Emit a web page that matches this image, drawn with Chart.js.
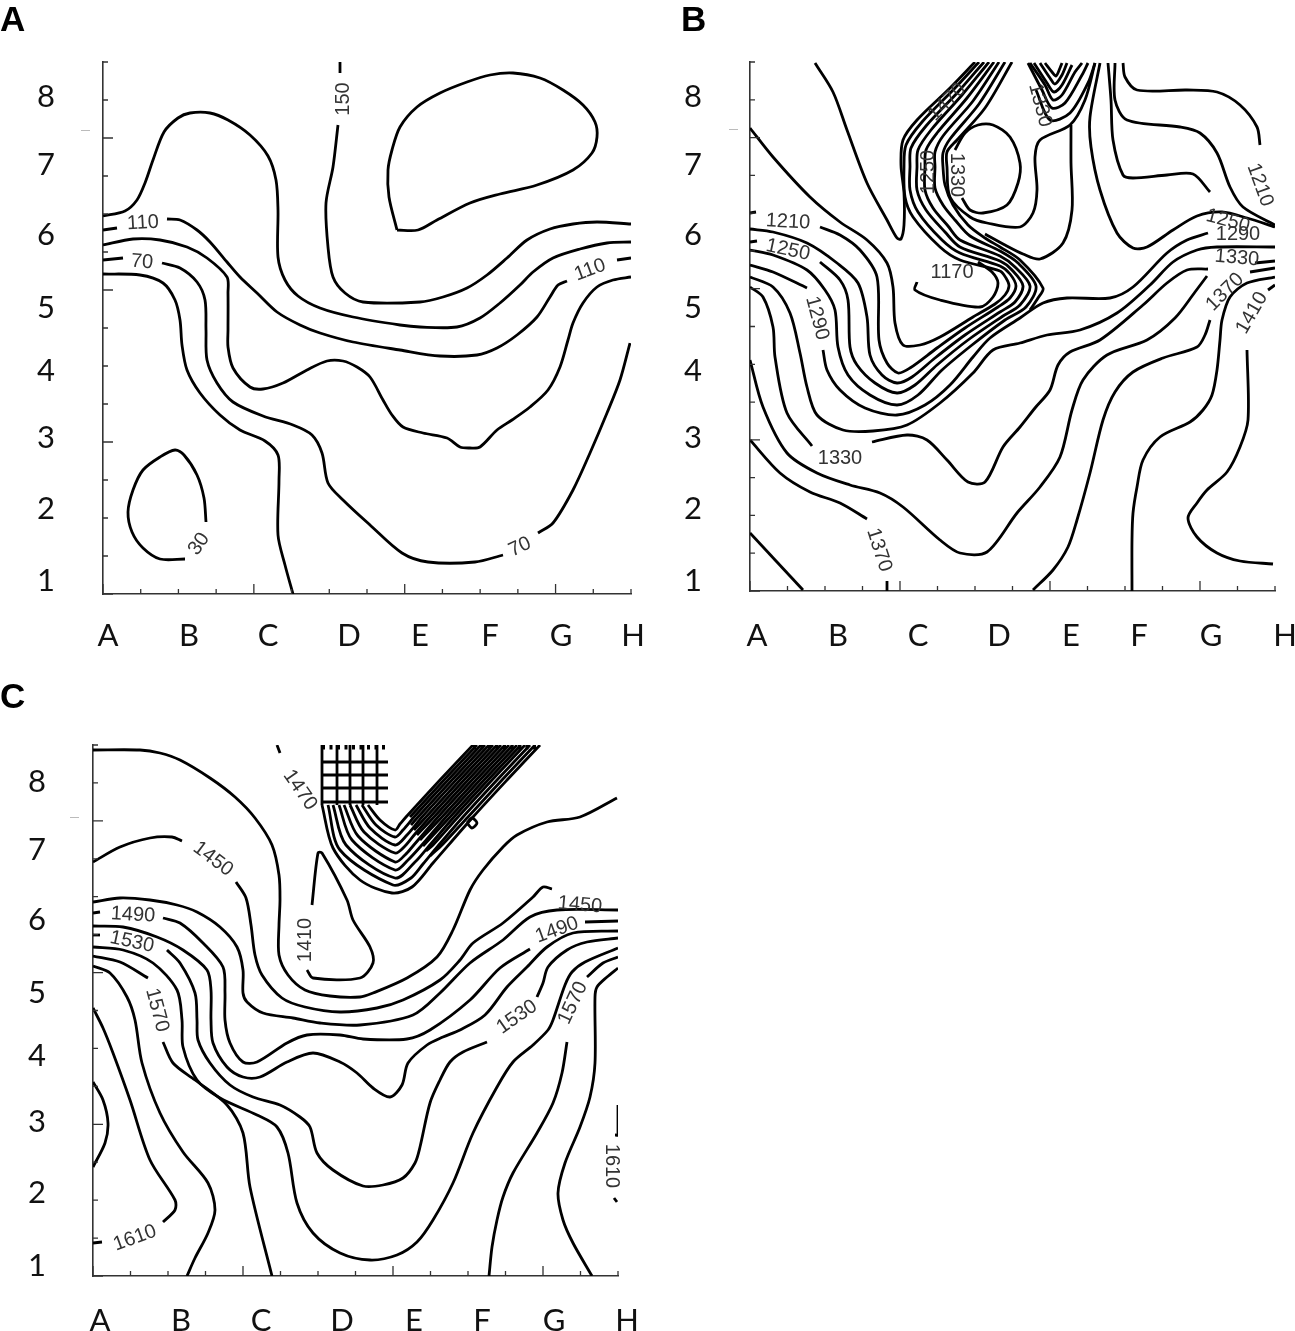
<!DOCTYPE html>
<html>
<head>
<meta charset="utf-8">
<title>Contour maps</title>
<script src="https://cdn.jsdelivr.net/npm/chart.js@4"></script>
<style>
  body { margin: 0; background: #fff; }
  #page { position: relative; width: 1295px; height: 1331px; overflow: hidden; }
  canvas { position: absolute; }
  .panel { position: absolute; font: bold 35px "Liberation Sans", Arial, sans-serif; line-height: 35px; color: #000; }
  .dash { position: absolute; width: 9px; height: 1px; background: #bbb; }
</style>
</head>
<body>
<div id="page">
  <canvas id="chartA" width="647" height="660" style="left:0;top:0"></canvas>
  <canvas id="chartB" width="648" height="660" style="left:647px;top:0"></canvas>
  <canvas id="chartC" width="647" height="671" style="left:0;top:660px"></canvas>
  <div class="panel" style="left:0;top:1px">A</div>
  <div class="panel" style="left:681px;top:1px">B</div>
  <div class="panel" style="left:0;top:678px">C</div>
  <div class="dash" style="left:81px;top:130px"></div>
  <div class="dash" style="left:729px;top:129px"></div>
  <div class="dash" style="left:70px;top:817px"></div>
</div>
<script>
// Tick labels and where they sit along each plate edge
const columns = ['A', 'B', 'C', 'D', 'E', 'F', 'G', 'H'];
const rows = ['1', '2', '3', '4', '5', '6', '7', '8'];
const columnPosA = [5, 86, 165, 246, 317, 387, 458, 530];
const rowPosA = [13, 85, 156, 223, 286, 359, 429, 497];
const columnPosB = [7, 88, 168, 249, 321, 389, 461, 535];
const rowPosB = [10, 82, 153, 220, 283, 356, 426, 494];
const columnPosC = [7, 88, 168, 249, 321, 389, 461, 534];
const rowPosC = [10, 83, 154, 220, 283, 356, 426, 494];

// Contour traces, [x, y] along the plate
const contoursA = [
  [[0,378],[22,383],[34,394],[42,411],[50,434],[61,462],[75,476],[87,481],[107,481],[125,474],[147,459],[165,438],[173,414],[175,384],[175,337],[182,314],[195,298],[217,286],[250,277],[297,269],[317,267],[354,267],[377,276],[397,291],[417,309],[430,322],[450,336],[477,345],[504,351],[528,352]],
  [[237,532],[237,521]],
  [[235,469],[230,427],[223,391],[225,347],[230,317],[242,301],[260,292],[317,292],[340,297],[364,306],[384,319],[404,336],[424,354],[447,365],[470,370],[494,372],[528,370]],
  [[0,364],[14,366]],
  [[64,375],[77,374],[94,364],[107,352],[124,332],[137,317],[154,301],[174,282],[197,269],[217,261],[250,252],[297,244],[337,238],[374,239],[394,246],[414,259],[434,277],[447,297],[455,309],[464,313]],
  [[514,334],[528,336]],
  [[0,349],[30,355],[57,354],[84,347],[104,336],[124,317],[125,301],[125,264],[125,247],[130,226],[147,207],[160,205],[180,211],[204,224],[224,233],[240,233],[254,227],[267,217],[280,194],[289,179],[300,167],[320,161],[344,156],[357,147],[367,146],[377,147],[394,164],[409,174],[427,187],[445,204],[457,227],[465,254],[470,271],[480,291],[494,307],[510,314],[528,317]],
  [[0,334],[20,336]],
  [[59,331],[77,326],[94,312],[102,294],[103,264],[104,234],[114,211],[130,192],[160,178],[190,169],[209,159],[219,141],[225,111],[240,94],[267,69],[299,41],[325,32],[372,32],[400,39]],
  [[435,61],[450,71],[470,104],[487,141],[504,181],[517,214],[527,251]],
  [[0,320],[37,319],[60,311],[72,294],[77,274],[79,249],[84,224],[97,201],[117,179],[137,164],[162,153],[175,139],[176,114],[175,59],[182,29],[190,0]],
  [[103,72],[101,96],[94,119],[81,139],[72,144],[57,137],[40,124],[30,104],[25,82],[29,62],[40,46],[57,35],[82,35]],
  [[294,364],[315,364],[334,374],[367,391],[397,400],[434,409],[470,424],[489,441],[494,457],[492,472],[480,489],[460,504],[437,516],[410,521],[387,519],[364,512],[337,501],[314,487],[297,467],[289,444],[285,424],[286,397],[294,364]]
];
const contoursB = [
  [[65,528],[83,499],[97,461],[117,408],[137,371],[147,353],[151,352],[154,366],[154,398],[151,426],[153,451],[167,471],[200,503],[225,529]],
  [[229,529],[205,503],[172,469],[156,446],[154,424],[155,394],[163,374],[190,344],[210,331],[250,320],[256,313],[259,305],[255,296],[245,287],[223,274],[190,254],[170,246],[153,246],[145,268],[143,304],[137,328],[117,351],[90,369],[60,394],[23,434],[0,463]],
  [[234,529],[208,499],[176,465],[161,443],[160,424],[160,401],[168,379],[192,351],[210,338],[250,325],[260,317],[266,305],[260,293],[248,284],[215,263],[187,243],[160,223],[148,218],[137,228],[129,251],[127,314],[110,341],[90,356],[70,364]],
  [[6,379],[0,378]],
  [[239,529],[212,496],[181,461],[168,441],[167,424],[167,401],[176,381],[195,359],[210,344],[250,330],[262,321],[273,305],[265,289],[250,279],[215,256],[185,233],[162,214],[147,208],[132,216],[120,236],[117,274],[108,308],[87,328],[57,348],[23,359],[0,362]],
  [[244,529],[217,493],[187,458],[176,441],[175,424],[175,401],[183,383],[198,365],[210,351],[250,335],[265,324],[280,305],[270,286],[253,275],[218,251],[187,226],[165,206],[147,198],[125,208],[107,226],[100,244],[98,291],[90,311],[70,329]],
  [[7,350],[0,349]],
  [[249,529],[223,490],[193,455],[185,439],[185,424],[185,403],[193,386],[205,371],[220,355],[250,340],[268,328],[286,305],[276,284],[255,271],[222,246],[192,221],[168,196],[147,186],[120,196],[98,216],[88,244],[85,281],[75,301],[57,321],[23,336],[0,341]],
  [[255,529],[229,487],[200,452],[193,438],[193,424],[195,406],[203,386],[218,366],[235,353],[250,344],[270,331],[293,303],[288,293],[280,281]],
  [[0,326],[23,319],[57,303]],
  [[73,241],[77,221],[90,201],[115,183],[147,176],[175,186],[200,206],[223,234],[240,253],[270,273],[293,288],[317,293],[360,293],[383,304],[417,338],[437,351],[458,358]],
  [[0,314],[23,304],[40,278],[50,238],[57,204],[67,176],[93,161],[123,160],[157,166],[190,188],[223,218],[243,241],[270,248],[297,256],[330,261],[367,278],[400,306],[423,329],[447,341],[467,344],[525,344]],
  [[0,304],[13,294],[23,264],[25,234],[37,178],[62,145]],
  [[122,149],[157,156],[177,151],[197,131],[218,109],[235,109],[253,144],[270,164],[285,183],[300,201],[308,226],[320,239],[350,251],[393,286],[417,308],[437,321],[458,322]],
  [[505,328],[525,330]],
  [[0,231],[13,184],[37,138],[67,118],[100,106],[130,98],[153,84],[190,51],[210,38],[237,39],[267,78],[290,104],[310,134],[322,181],[333,211],[357,236],[397,251],[425,273],[445,299],[457,315]],
  [[500,319],[525,323]],
  [[0,151],[30,118],[60,99],[90,88],[117,72]],
  [[137,10],[137,0]],
  [[283,1],[303,21],[318,44],[327,71],[340,118],[353,171],[365,199],[383,219],[413,233],[447,244],[455,256],[460,271]],
  [[382,0],[382,51],[383,78],[387,104],[393,131],[410,154],[440,169],[453,181],[462,196],[467,221],[470,251],[472,271],[480,294],[497,308],[525,314]],
  [[518,301],[525,306]],
  [[497,241],[498,171],[490,144],[477,119],[457,101],[447,88],[438,73],[447,54],[467,38],[490,30],[523,27]],
  [[0,58],[53,1]],
  [[373,528],[375,514],[387,501],[437,501],[467,499],[490,486],[507,464],[510,446]],
  [[365,528],[365,491],[377,471],[430,464],[450,458],[467,438],[480,404],[493,384],[525,366]],
  [[358,528],[361,491],[363,451],[373,416],[383,413],[417,416],[443,417],[460,399]],
  [[350,528],[340,474],[341,444],[350,401],[367,358],[383,343],[397,344],[423,361],[447,375],[472,379],[497,373],[525,364]],
  [[262,529],[235,483],[207,451],[197,439],[197,424],[200,394],[220,374],[237,368],[270,364],[283,378],[287,401],[285,434],[290,451],[320,466],[335,491],[345,528]],
  [[321,466],[321,428],[322,381],[313,348],[290,332],[273,337],[255,346],[235,357]],
  [[205,441],[215,458],[228,466],[243,466],[260,454],[270,428],[268,408],[257,386],[233,378],[220,381],[212,393]],
  [[167,309],[165,301],[190,291],[230,284],[243,294],[248,308],[242,319],[228,329]],
  [[286,501],[300,471],[320,478],[338,508],[345,528]],
  [[278,528],[292,501],[302,483],[315,488],[332,516],[338,528]],
  [[280,528],[295,506],[303,491],[312,496],[325,519],[332,528]],
  [[284,528],[297,508],[304,499],[312,506],[322,526]],
  [[290,528],[300,513],[305,507],[312,516],[317,528]],
  [[295,528],[302,519],[306,515],[310,523],[312,528]]
];
const contoursC = [
  [[0,526],[47,526],[67,523],[87,516],[117,498],[142,479],[162,458],[179,431],[186,401],[187,376],[186,351],[186,321],[195,301],[212,286],[237,280],[267,279],[280,283],[314,298],[344,319],[360,346],[377,386],[390,406],[410,429],[424,441],[454,454],[487,459],[524,478]],
  [[0,414],[27,429],[57,438],[79,439],[89,435]],
  [[143,394],[153,378],[158,351],[162,321],[169,301],[189,278],[212,269],[247,264],[284,268],[310,276],[347,296],[367,316],[380,333],[410,353],[440,379],[450,389],[459,387]],
  [[0,374],[27,378],[57,376],[84,371],[104,364],[127,349],[144,329],[150,306],[150,283],[154,274],[170,263],[200,258],[227,253],[267,251],[320,261],[347,283],[377,313],[410,336],[437,359],[464,366],[525,366]],
  [[0,363],[7,364]],
  [[70,358],[87,353],[110,333],[130,309],[132,283],[132,256],[137,233],[150,214],[164,214],[194,233],[214,241],[247,241],[270,237],[314,237],[337,246],[377,276],[407,308],[437,327]],
  [[492,354],[525,355]],
  [[0,350],[30,349],[64,339],[90,326],[114,306],[118,286],[118,256],[120,233],[134,209],[150,199],[167,199],[194,214],[220,223],[247,214],[264,203],[280,188],[297,179],[309,191],[315,213],[334,231],[350,239],[367,246],[392,261],[414,289],[434,309],[454,329],[480,343],[525,345]],
  [[0,341],[7,341]],
  [[74,326],[87,313],[102,283],[104,256],[105,236],[117,213],[137,191],[160,179],[187,171],[207,159],[217,149],[224,123],[240,106],[270,90],[290,91],[310,98],[322,113],[327,129],[337,173],[347,196],[357,214],[370,224],[394,234]],
  [[444,279],[450,293],[455,309],[474,326],[494,334],[525,338]],
  [[0,329],[30,326],[60,313],[84,286],[89,256],[90,229],[104,196],[127,178],[164,161],[184,149],[195,123],[204,73],[220,43],[247,23],[277,16],[304,21],[324,34],[340,56],[360,93],[380,143],[404,189],[420,214],[440,231],[455,246],[460,256],[472,291],[479,304],[492,314],[525,328]],
  [[0,320],[27,314],[55,298]],
  [[70,234],[80,213],[102,196],[134,171],[150,143],[157,89],[179,0]],
  [[396,0],[399,29],[404,56],[410,79],[420,103],[444,143],[460,173],[469,203],[474,234]],
  [[494,299],[510,313],[525,319]],
  [[0,310],[17,303],[34,279],[42,256],[49,213],[67,163],[90,124],[115,93],[122,66],[115,43],[102,18],[94,0]],
  [[499,0],[480,33],[470,56],[465,83],[472,113],[487,149],[497,179],[502,213],[502,279],[504,289],[514,299],[525,308]],
  [[0,268],[10,248],[20,223],[37,176],[57,116],[82,76],[82,66],[70,54]],
  [[0,33],[9,34]],
  [[0,194],[10,176],[15,153],[12,133],[0,109]],
  [[525,171],[525,141],[522,141]],
  [[524,74],[521,78]],
  [[219,371],[225,423],[229,423],[254,376],[260,356],[277,329],[280,313],[267,298],[220,298],[214,306]],
  [[184,531],[187,523]],
  [[275,471],[287,456],[302,446],[307,452],[313,459],[347,496],[380,531]],
  [[269,471],[283,451],[302,439],[310,446],[321,459],[355,496],[388,531]],
  [[263,471],[277,448],[302,431],[314,441],[329,459],[363,496],[396,531]],
  [[257,471],[271,444],[302,423],[312,430],[322,442],[337,459],[371,496],[404,531]],
  [[251,471],[265,440],[302,414],[312,421],[320,430],[345,459],[379,496],[412,531]],
  [[246,471],[259,436],[302,406],[315,416],[328,430],[353,459],[387,496],[420,531]],
  [[240,471],[253,431],[302,398],[322,414],[336,430],[361,459],[395,496],[428,531]],
  [[235,471],[247,426],[300,391],[318,398],[330,412],[345,430],[370,459],[404,496],[437,531]],
  [[229,471],[240,428],[267,396],[299,383],[319,389],[340,413],[380,459],[414,496],[447,531]],
  [[317,459],[351,496],[384,531]],
  [[318,451],[325,459],[359,496],[392,531]],
  [[321,446],[333,459],[367,496],[400,531]],
  [[324,441],[341,459],[375,496],[408,531]],
  [[327,436],[349,459],[383,496],[416,531]],
  [[330,430],[357,459],[391,496],[424,531]],
  [[333,425],[340,431],[365,459],[399,496],[432,531]],
  [[337,420],[350,432],[375,459],[409,496],[442,531]],
  [[229,531],[229,471]],
  [[244,531],[244,471]],
  [[257,531],[257,471]],
  [[270,531],[270,471]],
  [[284,531],[284,471]],
  [[229,514],[295,514]],
  [[229,501],[295,501]],
  [[229,488],[295,488]],
  [[229,474],[295,474]],
  [[374,453],[379,458],[384,453],[379,448],[374,453]]
];
// Comb of short dashes where the tight contours leave the top edge
const topCombC = [
  [[229,529],[295,529]],
  [[380,529],[447,529]]
];

// Contour labels: text, x, y, rotation in degrees
const labelsA = [
  ['110', 40, 371, -3], ['70', 39, 332, 5], ['150', 240, 495, -90],
  ['110', 487, 324, -20], ['70', 417, 47, -25], ['30', 96, 50, -55]
];
const labelsB = [
  ['1210', 38, 369, 3], ['1250', 38, 341, 12], ['1290', 67, 273, 75], ['1330', 90, 133, 0],
  ['1370', 129, 41, 72], ['1170', 202, 319, 0], ['1250', 178, 419, -90], ['1330', 207, 416, 90],
  ['1470', 197, 489, -45], ['1330', 290, 486, 75], ['1210', 510, 406, 70], ['1250', 478, 370, 15],
  ['1290', 488, 357, 0], ['1330', 487, 333, 5], ['1370', 475, 299, -45], ['1410', 502, 278, -60]
];
const labelsC = [
  ['1450', 120, 417, 37], ['1490', 40, 361, 3], ['1530', 39, 334, 12], ['1570', 64, 266, 75],
  ['1610', 42, 38, -20], ['1410', 212, 336, -90], ['1470', 207, 486, 55], ['1490', 464, 346, -20],
  ['1530', 424, 259, -35], ['1570', 480, 273, -65], ['1610', 519, 110, 90], ['1450', 487, 371, 5]
];

// Inward tick marks, every fourth one long
const insideTicks = {
  id: 'insideTicks',
  afterDatasetsDraw(chart) {
    const { ctx, scales: { x, y }, chartArea } = chart;
    ctx.save();
    ctx.strokeStyle = '#333';
    ctx.lineWidth = 1.3;
    for (let i = 0; i <= 14; i++) {
      const len = i % 4 === 0 ? 10 : 5;
      const px = x.getPixelForValue(i * x.max / 14);
      const py = y.getPixelForValue(i * y.max / 14);
      ctx.beginPath();
      ctx.moveTo(px, chartArea.bottom);
      ctx.lineTo(px, chartArea.bottom - len);
      ctx.moveTo(chartArea.left, py);
      ctx.lineTo(chartArea.left + len, py);
      ctx.stroke();
    }
    ctx.restore();
  }
};

const contourText = {
  id: 'contourText',
  afterDatasetsDraw(chart, args, opts) {
    const { ctx, scales: { x, y } } = chart;
    ctx.save();
    ctx.font = '20px "Liberation Sans", Arial, sans-serif';
    ctx.fillStyle = '#333';
    ctx.textAlign = 'center';
    ctx.textBaseline = 'middle';
    opts.items.forEach(([text, vx, vy, deg]) => {
      ctx.save();
      ctx.translate(x.getPixelForValue(vx), y.getPixelForValue(vy));
      ctx.rotate(deg * Math.PI / 180);
      ctx.fillText(text, 0, 0);
      ctx.restore();
    });
    ctx.restore();
  }
};

function contourDataset(points, extra) {
  return Object.assign({
    data: points.map(p => ({ x: p[0], y: p[1] })),
    showLine: true,
    pointRadius: 0,
    borderColor: '#000',
    borderWidth: 2.8,
    tension: 0.3,
    fill: false
  }, extra);
}

// Keep the plot box where the layout puts it, tick labels may hang past it
function noScalePadding(s) {
  s.paddingLeft = s.paddingRight = s.paddingTop = s.paddingBottom = 0;
}

function drawPlate(id, cfg) {
  const datasets = cfg.contours.map(c => contourDataset(c));
  (cfg.dashed || []).forEach(c => datasets.push(contourDataset(c, { borderDash: [3, 4.5], borderWidth: 5, tension: 0 })));
  const tickFont = { family: 'Lato', size: 31 };
  return new Chart(document.getElementById(id), {
    type: 'scatter',
    data: { datasets },
    plugins: [insideTicks, contourText],
    options: {
      responsive: false,
      animation: false,
      events: [],
      layout: { padding: { left: 0, top: cfg.top, right: cfg.right, bottom: 0 } },
      plugins: {
        legend: { display: false },
        tooltip: { enabled: false },
        contourText: { items: cfg.labels }
      },
      scales: {
        x: {
          type: 'linear',
          min: 0,
          max: cfg.width,
          grid: { display: false },
          border: { display: true, color: '#333', width: 1.6 },
          afterBuildTicks: s => { s.ticks = cfg.columnPos.map(v => ({ value: v })); },
          afterFit: s => { s.height = cfg.bottom; noScalePadding(s); },
          ticks: {
            autoSkip: false,
            maxRotation: 0,
            padding: cfg.xPad,
            color: '#111',
            font: tickFont,
            callback: (v, i) => columns[i]
          }
        },
        y: {
          type: 'linear',
          min: 0,
          max: cfg.height,
          grid: { display: false },
          border: { display: true, color: '#333', width: 1.6 },
          afterBuildTicks: s => { s.ticks = cfg.rowPos.map(v => ({ value: v })); },
          afterFit: s => { s.width = cfg.left; noScalePadding(s); },
          ticks: {
            autoSkip: false,
            padding: cfg.yPad,
            color: '#111',
            font: tickFont,
            callback: (v, i) => rows[i]
          }
        }
      }
    }
  });
}

drawPlate('chartA', {
  contours: contoursA, labels: labelsA, columnPos: columnPosA, rowPos: rowPosA,
  width: 528, height: 532, left: 103, top: 62, right: 16, bottom: 66, xPad: 15, yPad: 40
});
drawPlate('chartB', {
  contours: contoursB, labels: labelsB, columnPos: columnPosB, rowPos: rowPosB,
  width: 525, height: 529, left: 103, top: 62, right: 20, bottom: 69, xPad: 18, yPad: 40
});
drawPlate('chartC', {
  contours: contoursC, dashed: topCombC, labels: labelsC, columnPos: columnPosC, rowPos: rowPosC,
  width: 525, height: 531, left: 93, top: 85, right: 29, bottom: 55, xPad: 18, yPad: 39
});
</script>
</body>
</html>
